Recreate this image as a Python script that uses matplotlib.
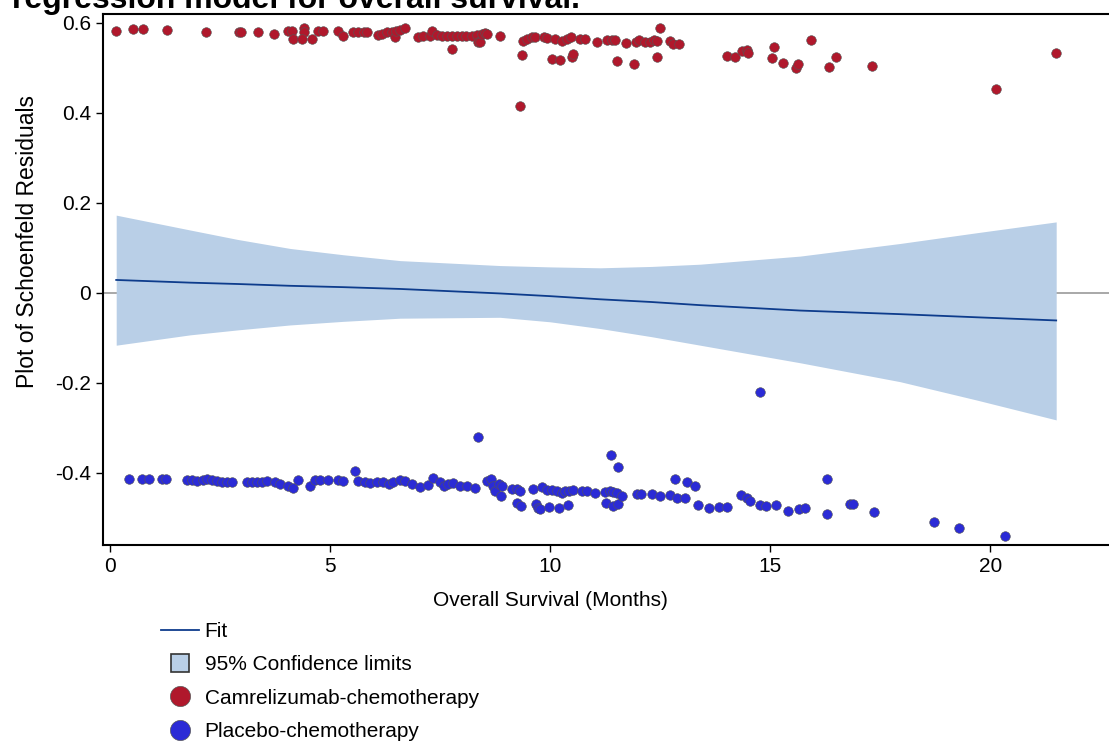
import matplotlib.pyplot as plt
from matplotlib.lines import Line2D

plt.rcParams['font.family'] = ['Liberation Sans', 'DejaVu Sans']
plt.rcParams['axes.unicode_minus'] = False

# Camrelizumab-chemotherapy residuals
cam_x = [0.14, 0.53, 0.76, 1.29, 2.17, 2.92, 2.97, 3.37, 3.72, 4.05, 4.13, 4.15, 4.41, 4.41,
         4.37, 4.60, 4.73, 4.83, 5.19, 5.30, 5.53, 5.64, 5.76, 5.83, 6.08, 6.17, 6.29, 6.40,
         6.48, 6.50, 6.59, 6.70, 7.00, 7.12, 7.27, 7.31, 7.42, 7.54, 7.65, 7.77, 7.77, 7.88,
         7.99, 8.10, 8.22, 8.33, 8.36, 8.41, 8.45, 8.52, 8.56, 8.86, 9.32, 9.36, 9.39, 9.47,
         9.58, 9.66, 9.85, 9.92, 10.04, 10.11, 10.23, 10.27, 10.38, 10.47, 10.49, 10.53, 10.68,
         10.80, 11.06, 11.29, 11.40, 11.48, 11.52, 11.72, 11.91, 11.95, 12.01, 12.16, 12.27,
         12.35, 12.42, 12.44, 12.50, 12.73, 12.80, 12.92, 14.02, 14.20, 14.36, 14.47, 14.50,
         15.04, 15.08, 15.30, 15.59, 15.64, 15.93, 16.33, 16.50, 17.31, 20.14, 21.49]
cam_y = [0.583, 0.587, 0.587, 0.584, 0.581, 0.579, 0.579, 0.581, 0.576, 0.582, 0.582, 0.564,
         0.588, 0.581, 0.564, 0.564, 0.583, 0.583, 0.583, 0.571, 0.579, 0.579, 0.579, 0.579,
         0.574, 0.576, 0.579, 0.581, 0.568, 0.583, 0.585, 0.589, 0.570, 0.571, 0.572, 0.583,
         0.573, 0.572, 0.572, 0.572, 0.542, 0.571, 0.571, 0.572, 0.572, 0.574, 0.557, 0.558,
         0.575, 0.578, 0.576, 0.572, 0.416, 0.529, 0.561, 0.564, 0.569, 0.570, 0.569, 0.567,
         0.521, 0.565, 0.518, 0.561, 0.565, 0.569, 0.525, 0.531, 0.565, 0.565, 0.558, 0.562,
         0.563, 0.562, 0.516, 0.555, 0.508, 0.558, 0.562, 0.557, 0.558, 0.562, 0.560, 0.524,
         0.589, 0.560, 0.554, 0.553, 0.527, 0.525, 0.538, 0.541, 0.534, 0.523, 0.547, 0.512,
         0.500, 0.509, 0.562, 0.503, 0.524, 0.504, 0.453, 0.533]

# Placebo-chemotherapy residuals
pla_x = [0.44, 0.72, 0.89, 1.17, 1.27, 1.74, 1.86, 1.97, 2.12, 2.20, 2.31, 2.42, 2.54, 2.65,
         2.77, 3.11, 3.22, 3.33, 3.45, 3.56, 3.75, 3.86, 4.05, 4.15, 4.28, 4.55, 4.66, 4.77,
         4.96, 5.19, 5.30, 5.57, 5.64, 5.80, 5.91, 6.06, 6.21, 6.33, 6.44, 6.59, 6.70, 6.86,
         7.05, 7.23, 7.35, 7.50, 7.58, 7.69, 7.80, 7.95, 8.11, 8.30, 8.36, 8.56, 8.66, 8.71,
         8.75, 8.83, 8.88, 8.90, 9.14, 9.24, 9.24, 9.32, 9.33, 9.61, 9.68, 9.73, 9.77, 9.81,
         9.92, 9.98, 10.04, 10.15, 10.20, 10.27, 10.34, 10.40, 10.42, 10.53, 10.72, 10.83,
         11.02, 11.25, 11.26, 11.36, 11.39, 11.44, 11.44, 11.52, 11.55, 11.55, 11.63, 11.97,
         12.07, 12.31, 12.50, 12.73, 12.84, 12.88, 13.07, 13.11, 13.30, 13.35, 13.62, 13.83,
         14.02, 14.34, 14.47, 14.55, 14.77, 14.77, 14.91, 15.14, 15.40, 15.66, 15.80, 16.29,
         16.29, 16.82, 16.89, 17.35, 18.73, 19.30, 20.34]
pla_y = [-0.413, -0.413, -0.413, -0.414, -0.414, -0.416, -0.416, -0.418, -0.416, -0.414,
         -0.416, -0.418, -0.419, -0.419, -0.419, -0.419, -0.419, -0.419, -0.419, -0.418,
         -0.419, -0.424, -0.429, -0.434, -0.416, -0.429, -0.416, -0.416, -0.415, -0.416,
         -0.418, -0.396, -0.418, -0.419, -0.423, -0.421, -0.419, -0.424, -0.419, -0.416,
         -0.418, -0.424, -0.431, -0.427, -0.410, -0.419, -0.429, -0.425, -0.423, -0.429,
         -0.429, -0.433, -0.321, -0.418, -0.414, -0.429, -0.441, -0.424, -0.451, -0.429,
         -0.435, -0.436, -0.466, -0.440, -0.473, -0.435, -0.469, -0.478, -0.480, -0.432,
         -0.437, -0.475, -0.437, -0.439, -0.477, -0.444, -0.441, -0.471, -0.440, -0.437,
         -0.440, -0.440, -0.445, -0.442, -0.466, -0.439, -0.361, -0.442, -0.474, -0.444,
         -0.386, -0.469, -0.450, -0.447, -0.447, -0.446, -0.451, -0.449, -0.414, -0.455,
         -0.455, -0.421, -0.429, -0.471, -0.478, -0.476, -0.475, -0.448, -0.455, -0.462,
         -0.221, -0.470, -0.473, -0.470, -0.484, -0.479, -0.477, -0.414, -0.490, -0.468,
         -0.469, -0.486, -0.508, -0.523, -0.541]

# fit and 95% confidence limits
fit_x = [0.14, 1.82, 2.9, 4.09, 5.3, 6.59, 8.86, 10.0, 11.14, 12.3, 13.41, 15.68, 17.95, 19.7, 21.5]
fit_y = [0.029, 0.023, 0.020, 0.016, 0.013, 0.009, -0.001, -0.007, -0.014, -0.020, -0.027,
         -0.039, -0.047, -0.054, -0.061]
ci_upper = [0.173, 0.140, 0.119, 0.099, 0.085, 0.072, 0.061, 0.058, 0.056, 0.059, 0.064,
            0.082, 0.110, 0.134, 0.158]
ci_lower = [-0.116, -0.093, -0.082, -0.071, -0.063, -0.056, -0.054, -0.064, -0.079, -0.097,
            -0.116, -0.155, -0.197, -0.238, -0.282]

yticks = [-0.4, -0.2, 0, 0.2, 0.4, 0.6]
ytick_labels = ['-0.4', '-0.2', '0', '0.2', '0.4', '0.6']
xticks = [0, 5, 10, 15, 20]

red = '#B0182C'
blue = '#2B2BD6'
band = '#B9CFE7'
fitc = '#0E3C8C'

fig = plt.figure(figsize=(11.09, 7.44), dpi=100)
ax = fig.add_axes([103 / 1109, 1 - 545 / 744, 1 - 103 / 1109, (545 - 14) / 744])

ax.axhline(0, color='#999999', lw=1.2, zorder=1)
ax.fill_between(fit_x, ci_lower, ci_upper, color=band, lw=0, zorder=2)
ax.plot(fit_x, fit_y, color=fitc, lw=1.3, zorder=3)
ax.scatter(cam_x, cam_y, s=48, color=red, edgecolors='#555555', linewidths=0.4, zorder=4)
ax.scatter(pla_x, pla_y, s=48, color=blue, edgecolors='#555555', linewidths=0.4, zorder=4)

ax.set_xlim(-0.16, 22.7)
ax.set_ylim(-0.56, 0.62)
ax.set_xticks(xticks)
ax.set_yticks(yticks)
ax.set_yticklabels(ytick_labels)
ax.tick_params(labelsize=15, length=5, width=1, direction='out', colors='black')
for name, sp in ax.spines.items():
    sp.set_linewidth(1.5)
    sp.set_color('black')
ax.spines['right'].set_visible(False)

fig.text(28 / 1109, 1 - 242 / 744, 'Plot of Schoenfeld Residuals', rotation=90,
         ha='center', va='center', fontsize=16.5)
fig.text(550 / 1109, 1 - 600 / 744, 'Overall Survival (Months)',
         ha='center', va='center', fontsize=15)
fig.text(12 / 1109, 1 - 8 / 744, 'regression model for overall survival.',
         ha='left', va='baseline', fontsize=23, fontweight='bold')

handles = [
    Line2D([], [], color=fitc, lw=1.3),
    Line2D([], [], ls='none', marker='s', markersize=13, mfc=band, mec='#333333', mew=1.2),
    Line2D([], [], ls='none', marker='o', markersize=14.5, mfc=red, mec='#555555', mew=0.5),
    Line2D([], [], ls='none', marker='o', markersize=14.5, mfc=blue, mec='#555555', mew=0.5),
]
labels = ['Fit', '95% Confidence limits', 'Camrelizumab-chemotherapy', 'Placebo-chemotherapy']
fig.legend(handles, labels, loc='upper left', bbox_to_anchor=(161 / 1109, 1 - 622 / 744),
           frameon=False, fontsize=15, handlelength=1.8, handletextpad=0.3,
           labelspacing=0.69, borderpad=0, borderaxespad=0)

fig.savefig('out.png', dpi=100)
